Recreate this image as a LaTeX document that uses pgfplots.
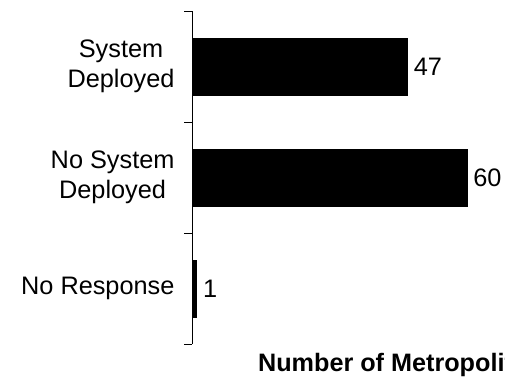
\documentclass[border=0pt]{standalone}
\usepackage{fontspec}
\setmainfont{Liberation Sans}
\usepackage{pgfplots}
\pgfplotsset{compat=1.18}
\begin{document}
\begin{tikzpicture}[x=1pt,y=1pt]
\useasboundingbox (0,0) rectangle (505,381);
\begin{axis}[
  at={(192pt,37pt)}, anchor=south west,
  scale only axis=true,
  width=458pt, height=333pt,
  xbar, bar width=57pt,
  xmin=0, xmax=100,
  ymin=-0.5, ymax=2.5,
  axis x line=bottom, axis y line=left,
  axis line style={-, black, line width=0.8pt},
  x axis line style={draw=none},
  xtick=\empty,
  ytick={0,1,2},
  yticklabels={No Response, {No System\\Deployed}, {System\\Deployed}},
  major tick length=0pt,
  yticklabel style={align=center, font=\fontsize{25.3}{30.5}\selectfont, xshift=-14pt},
  extra y ticks={-0.5,0.5,1.5,2.5},
  extra y tick labels={},
  extra y tick style={major tick length=8pt, tick align=outside, tick style={black, line width=0.8pt}},
  xlabel={Number of Metropolitan Areas},
  xlabel style={at={(rel axis cs:0.144,0)}, anchor=north west, yshift=-9pt, inner sep=0pt,
    font=\fontsize{25.2}{28}\selectfont\bfseries},
  nodes near coords,
  /pgf/number format/assume math mode=true,
  every node near coord/.append style={anchor=west, xshift=3pt, font=\fontsize{25.3}{28}\selectfont, black},
  clip=false,
]
\addplot[fill=black, draw=black] coordinates {(1,0) (60,1) (47,2)};
\end{axis}
\end{tikzpicture}
\end{document}
